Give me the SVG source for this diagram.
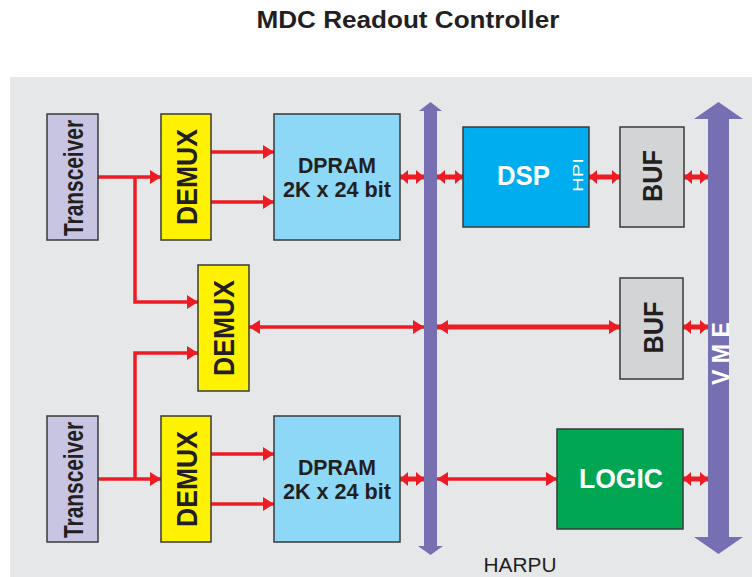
<svg xmlns="http://www.w3.org/2000/svg" width="752" height="577" viewBox="0 0 752 577">
<defs>
<style>
.box{stroke:#3a3a3a;stroke-width:1.5}
.b{font-family:"Liberation Sans",Arial,sans-serif;font-weight:bold;fill:#231f20}
.w{font-family:"Liberation Sans",Arial,sans-serif;font-weight:bold;fill:#ffffff}
.thin{stroke:#ed1c24;stroke-width:3.5;fill:none}
.thick{stroke:#ed1c24;stroke-width:5;fill:none}
.bus{fill:#7670b3}
</style>
<marker id="ah" markerUnits="userSpaceOnUse" markerWidth="12" markerHeight="14" refX="11" refY="7" orient="auto">
<path d="M0,0 L11,7 L0,14 z" fill="#ed1c24"/>
</marker>
<marker id="ahs" markerUnits="userSpaceOnUse" markerWidth="12" markerHeight="14" refX="0" refY="7" orient="auto">
<path d="M11,0 L0,7 L11,14 z" fill="#ed1c24"/>
</marker>
<marker id="dh" markerUnits="userSpaceOnUse" markerWidth="9" markerHeight="14" refX="8" refY="7" orient="auto">
<path d="M0,0 L8,7 L0,14 z" fill="#ed1c24"/>
</marker>
<marker id="dhs" markerUnits="userSpaceOnUse" markerWidth="9" markerHeight="14" refX="0" refY="7" orient="auto">
<path d="M8,0 L0,7 L8,14 z" fill="#ed1c24"/>
</marker>
</defs>
<rect x="0" y="0" width="752" height="577" fill="#ffffff"/>
<rect x="10" y="77" width="742" height="500" fill="#e6e7e9"/>
<text class="b" x="408" y="28" font-size="24" text-anchor="middle" textLength="303" lengthAdjust="spacingAndGlyphs">MDC Readout Controller</text>

<g id="harpu-bus">
<path class="bus" d="M424,111 L419,111 L430.5,102 L442,111 L437,111 L437,546 L443,546 L430.5,555 L418,546 L424,546 z"/>
<text x="520" y="572" font-family="'Liberation Sans',Arial,sans-serif" font-size="21" fill="#231f20" text-anchor="middle" textLength="73" lengthAdjust="spacingAndGlyphs">HARPU</text>
</g>
<g id="vme-bus">
<path class="bus" d="M708,119 L694,119 L718.5,102 L743,119 L729,119 L729,537 L743,537 L718.5,554 L694,537 L708,537 z"/>
<text class="w" transform="translate(729,353.5) rotate(-90)" x="0" y="0" font-size="23" text-anchor="middle" textLength="63" lengthAdjust="spacingAndGlyphs">V M E</text>
</g>

<g id="connectors">
<path class="thin" d="M98,177 L161,177" marker-end="url(#ah)"/>
<path class="thin" d="M135,177 L135,302 L198,302" marker-end="url(#ah)"/>
<path class="thin" d="M98,479 L161,479" marker-end="url(#ah)"/>
<path class="thin" d="M135,479 L135,353 L198,353" marker-end="url(#ah)"/>
<path class="thin" d="M211,152 L274,152" marker-end="url(#ah)"/>
<path class="thin" d="M211,202 L274,202" marker-end="url(#ah)"/>
<path class="thin" d="M211,454 L274,454" marker-end="url(#ah)"/>
<path class="thin" d="M211,504 L274,504" marker-end="url(#ah)"/>
<path class="thick" d="M400,177 L424,177" marker-start="url(#dhs)" marker-end="url(#dh)"/>
<path class="thick" d="M437,177 L463,177" marker-start="url(#dhs)" marker-end="url(#dh)"/>
<path class="thick" d="M589,177 L620,177" marker-start="url(#dhs)" marker-end="url(#dh)"/>
<path class="thick" d="M684,177 L708,177" marker-start="url(#dhs)" marker-end="url(#dh)"/>
<path class="thin" d="M249,327 L424,327" marker-start="url(#ahs)" marker-end="url(#ah)"/>
<path class="thick" d="M437,327 L620,327" stroke-width="6" marker-start="url(#ahs)" marker-end="url(#ah)"/>
<path class="thick" d="M683,327 L708,327" marker-start="url(#dhs)" marker-end="url(#dh)"/>
<path class="thick" d="M400,479 L424,479" marker-start="url(#dhs)" marker-end="url(#dh)"/>
<path class="thin" d="M437,479 L557,479" marker-start="url(#ahs)" marker-end="url(#ah)"/>
<path class="thick" d="M683,479 L708,479" marker-start="url(#dhs)" marker-end="url(#dh)"/>
</g>

<g id="transceiver-top">
<rect class="box" x="47" y="114" width="51" height="126" fill="#c8c5e2"/>
<text class="b" transform="translate(83,178) rotate(-90)" font-size="28" text-anchor="middle" textLength="116" lengthAdjust="spacingAndGlyphs">Transceiver</text>
</g>
<g id="transceiver-bottom">
<rect class="box" x="47" y="416" width="51" height="126" fill="#c8c5e2"/>
<text class="b" transform="translate(83,480) rotate(-90)" font-size="28" text-anchor="middle" textLength="116" lengthAdjust="spacingAndGlyphs">Transceiver</text>
</g>
<g id="demux-top">
<rect class="box" x="161" y="114" width="50" height="126" fill="#fff200"/>
<text class="b" transform="translate(197,177) rotate(-90)" font-size="30" text-anchor="middle" textLength="96" lengthAdjust="spacingAndGlyphs">DEMUX</text>
</g>
<g id="demux-middle">
<rect class="box" x="198" y="265" width="51" height="126" fill="#fff200"/>
<text class="b" transform="translate(234,328) rotate(-90)" font-size="30" text-anchor="middle" textLength="96" lengthAdjust="spacingAndGlyphs">DEMUX</text>
</g>
<g id="demux-bottom">
<rect class="box" x="161" y="416" width="50" height="126" fill="#fff200"/>
<text class="b" transform="translate(197,479) rotate(-90)" font-size="30" text-anchor="middle" textLength="96" lengthAdjust="spacingAndGlyphs">DEMUX</text>
</g>
<g id="dpram-top">
<rect class="box" x="274" y="114" width="126" height="126" fill="#8dd7f7"/>
<text class="b" x="337" y="173" font-size="22" text-anchor="middle" textLength="78" lengthAdjust="spacingAndGlyphs">DPRAM</text>
<text class="b" x="337" y="197" font-size="22" text-anchor="middle" textLength="108" lengthAdjust="spacingAndGlyphs">2K x 24 bit</text>
</g>
<g id="dpram-bottom">
<rect class="box" x="274" y="416" width="126" height="126" fill="#8dd7f7"/>
<text class="b" x="337" y="475" font-size="22" text-anchor="middle" textLength="78" lengthAdjust="spacingAndGlyphs">DPRAM</text>
<text class="b" x="337" y="499" font-size="22" text-anchor="middle" textLength="108" lengthAdjust="spacingAndGlyphs">2K x 24 bit</text>
</g>
<g id="dsp">
<rect class="box" x="463" y="127" width="126" height="100" fill="#00aeef" stroke="#555"/>
<text class="w" x="523.5" y="185" font-size="28" text-anchor="middle" textLength="53" lengthAdjust="spacingAndGlyphs">DSP</text>
<text transform="translate(583,175) rotate(-90)" font-family="'Liberation Sans',Arial,sans-serif" font-size="15" fill="#ffffff" text-anchor="middle" textLength="34" lengthAdjust="spacingAndGlyphs">HPI</text>
</g>
<g id="buf-top">
<rect class="box" x="620" y="127" width="64" height="100" fill="#d3d4d6"/>
<text class="b" transform="translate(662,176) rotate(-90)" font-size="28" text-anchor="middle" textLength="52" lengthAdjust="spacingAndGlyphs">BUF</text>
</g>
<g id="buf-middle">
<rect class="box" x="620" y="278" width="63" height="101" fill="#d3d4d6"/>
<text class="b" transform="translate(663,327.5) rotate(-90)" font-size="28" text-anchor="middle" textLength="52" lengthAdjust="spacingAndGlyphs">BUF</text>
</g>
<g id="logic">
<rect class="box" x="557" y="429" width="126" height="100" fill="#00a651"/>
<text class="w" x="621" y="488" font-size="28" text-anchor="middle" textLength="84" lengthAdjust="spacingAndGlyphs">LOGIC</text>
</g>
</svg>
